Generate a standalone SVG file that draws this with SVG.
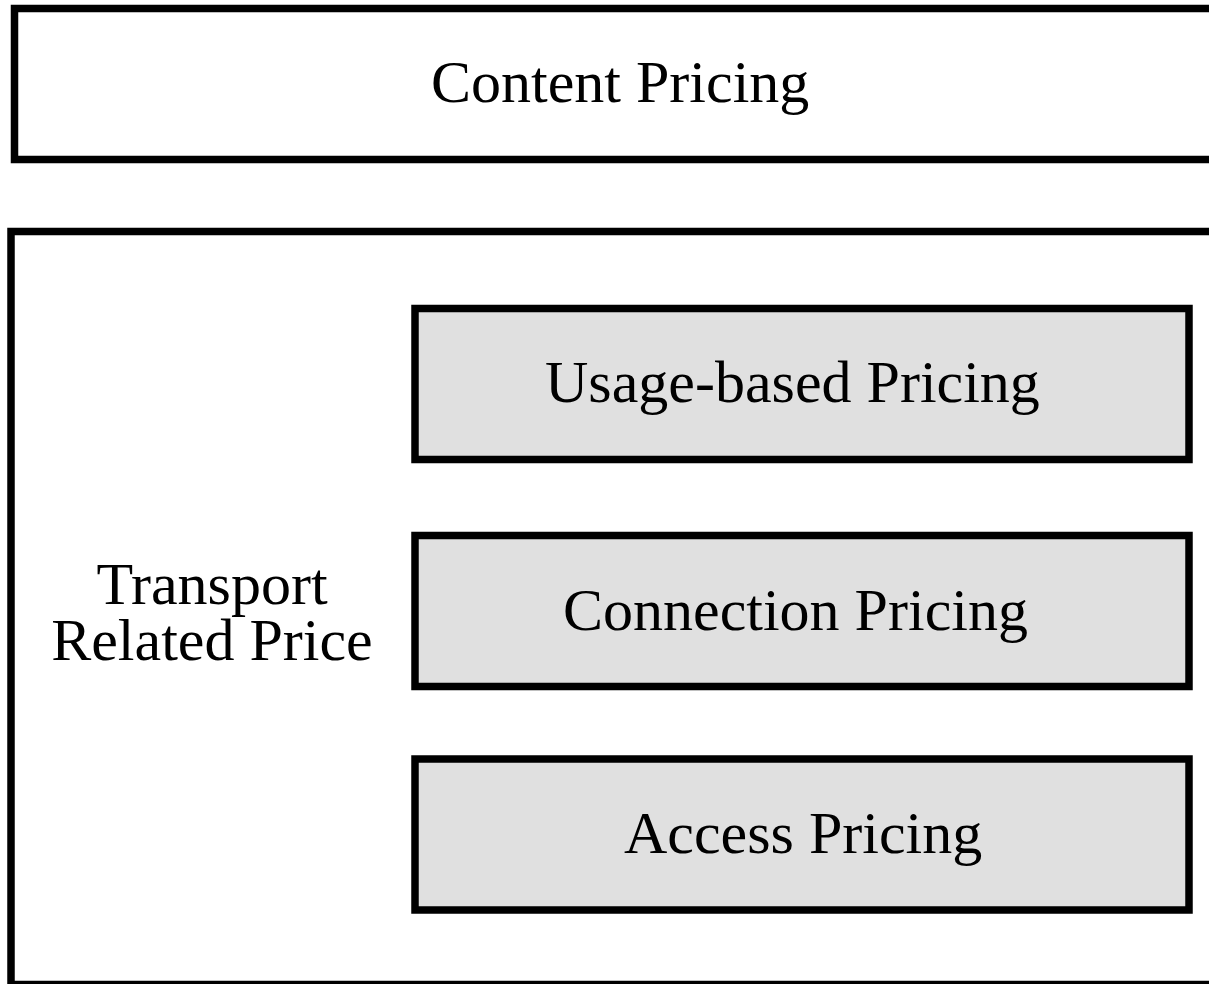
<svg xmlns="http://www.w3.org/2000/svg" width="1209" height="984" viewBox="0 0 1209 984">
<style>
.box{stroke:#000;stroke-width:7.5}
.outer{fill:#fff}
.inner{fill:#e0e0e0}
text{font-family:"Liberation Serif","Times New Roman",serif;font-size:60px;fill:#000}
</style>
<rect width="1209" height="984" fill="#fff"/>
<g id="content-pricing">
<rect class="box outer" x="14.5" y="8.5" width="1210" height="151"/>
<text x="431" y="102">Content Pricing</text>
</g>
<g id="transport-related-price">
<rect class="box outer" x="11" y="231.5" width="1214" height="753"/>
<text x="212" y="604" text-anchor="middle">Transport</text>
<text x="212" y="660" text-anchor="middle">Related Price</text>
</g>
<g id="usage-based-pricing">
<rect class="box inner" x="415" y="308.5" width="774" height="151"/>
<text x="545" y="402">Usage-based Pricing</text>
</g>
<g id="connection-pricing">
<rect class="box inner" x="415" y="535.5" width="774" height="151"/>
<text x="563" y="630">Connection Pricing</text>
</g>
<g id="access-pricing">
<rect class="box inner" x="415" y="759" width="774" height="151"/>
<text x="624" y="853">Access Pricing</text>
</g>
<g id="connectors"></g>
</svg>
